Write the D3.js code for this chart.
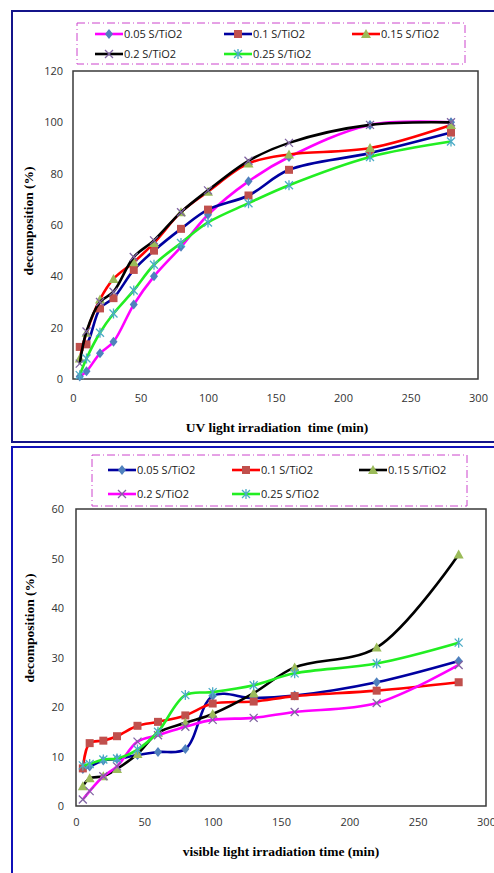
<!DOCTYPE html>
<html>
<head>
<meta charset="utf-8">
<script src="https://cdn.jsdelivr.net/npm/d3@7"></script>
<style>
  body { margin: 0; background: #fff; }
  svg text { font-family: "Open Sans", "DejaVu Sans", sans-serif; }
</style>
</head>
<body>
<svg id="chart" width="494" height="873"></svg>
<script>
// irradiation times (min), shared by both panels
const times = [5, 10, 20, 30, 45, 60, 80, 100, 130, 160, 220, 280];

// UV panel (decomposition %)
const uv005 = [1, 3, 10, 14.5, 29, 40, 51.5, 64, 77, 86.5, 99, 100];
const uv01 = [12.5, 13.5, 27.5, 31.5, 42.5, 50, 58.5, 66, 71.5, 81.5, 88, 96];
const uv015 = [8, 18, 31, 39, 45.5, 53, 65, 73, 84, 87.5, 90, 99];
const uv02 = [6, 18.5, 30, 34, 47.5, 54, 65, 73.5, 85, 92, 99, 100];
const uv025 = [1.5, 8, 18, 25.5, 34.5, 44.5, 53, 61, 68.5, 75.5, 86.5, 92.5];

// visible panel (decomposition %)
const vis005 = [7.5, 8, 9.2, 9.5, 10.3, 10.9, 11.5, 22.2, 21.8, 22.3, 25, 29.3];
const vis01 = [7.6, 12.7, 13.2, 14.1, 16.2, 17, 18.3, 20.7, 21.1, 22.2, 23.3, 25];
const vis015 = [4, 5.6, 6, 7.5, 10.5, 14.8, 16.8, 18.6, 22.8, 28, 32, 50.8];
const vis02 = [1.3, 3, 6, 8, 13, 14.3, 16, 17.4, 17.8, 19, 20.8, 28.5];
const vis025 = [8.2, 8.5, 9.4, 9.6, 11.4, 15, 22.4, 23, 24.4, 26.8, 28.8, 33];

const seriesNames = ["0.05 S/TiO2", "0.1 S/TiO2", "0.15 S/TiO2", "0.2 S/TiO2", "0.25 S/TiO2"];
const xTicks = [0, 50, 100, 150, 200, 250, 300];
const uvYTicks = [0, 20, 40, 60, 80, 100, 120];
const visYTicks = [0, 10, 20, 30, 40, 50, 60];

const markerTypes = ["diamond", "square", "triangle", "cross", "star"];
const markerFill = ["#4F81BD", "#C0504D", "#9BBB59", "#8064A2", "#4BACC6"];

const svg = d3.select("#chart");

// panel frames
svg.append("rect").attr("x", 12).attr("y", 11).attr("width", 500).attr("height", 431)
    .attr("fill", "none").attr("stroke", "#14148a").attr("stroke-width", 2);
svg.append("rect").attr("x", 12).attr("y", 447).attr("width", 500).attr("height", 440)
    .attr("fill", "none").attr("stroke", "#1010b8").attr("stroke-width", 2);

function drawMarker(g, type, x, y, fill) {
    const s = 4;
    if (type === "diamond") {
        g.append("path").attr("d", `M${x},${y - s - 1}L${x + s},${y}L${x},${y + s + 1}L${x - s},${y}Z`)
            .attr("fill", fill);
    } else if (type === "square") {
        g.append("rect").attr("x", x - s).attr("y", y - s).attr("width", 2 * s).attr("height", 2 * s)
            .attr("fill", fill);
    } else if (type === "triangle") {
        g.append("path").attr("d", `M${x},${y - s - 1}L${x + s + 1},${y + s}L${x - s - 1},${y + s}Z`)
            .attr("fill", fill);
    } else if (type === "cross") {
        g.append("path").attr("d", `M${x - s},${y - s}L${x + s},${y + s}M${x - s},${y + s}L${x + s},${y - s}`)
            .attr("stroke", fill).attr("stroke-width", 1.3);
    } else {
        g.append("path").attr("d", `M${x - s},${y - s}L${x + s},${y + s}M${x - s},${y + s}L${x + s},${y - s}M${x},${y - s - 1}L${x},${y + s + 1}`)
            .attr("stroke", fill).attr("stroke-width", 1.3);
    }
}

function drawPanel(cfg) {
    const x = d3.scaleLinear().domain([0, 300]).range([cfg.left, cfg.right]);
    const y = d3.scaleLinear().domain([0, cfg.yMax]).range([cfg.bottom, cfg.top]);

    // y axis labels
    const gy = svg.append("g")
        .attr("transform", `translate(${cfg.left},0)`)
        .call(d3.axisLeft(y).tickValues(cfg.yTicks).tickSize(0).tickPadding(cfg.left - cfg.yLabelX));
    gy.select(".domain").remove();
    gy.selectAll("text").attr("font-size", 11).attr("fill", "#333")
        .attr("font-family", "'Open Sans', sans-serif");

    // x axis labels
    const gx = svg.append("g")
        .attr("transform", `translate(0,${cfg.bottom})`)
        .call(d3.axisBottom(x).tickValues(xTicks).tickSize(0).tickPadding(cfg.xLabelY - cfg.bottom - 8));
    gx.select(".domain").remove();
    gx.selectAll("text").attr("font-size", 11).attr("fill", "#333")
        .attr("font-family", "'Open Sans', sans-serif");

    // plot area box
    svg.append("rect").attr("x", cfg.left).attr("y", cfg.top)
        .attr("width", cfg.right - cfg.left).attr("height", cfg.bottom - cfg.top)
        .attr("fill", "none").attr("stroke", "#3a3a3a").attr("stroke-width", 1.5);

    // axis titles
    svg.append("text").attr("x", cfg.xTitleX).attr("y", cfg.xTitleY)
        .attr("text-anchor", "middle").attr("font-size", 13.5).attr("font-weight", "bold")
        .style("font-family", "'Liberation Serif', 'DejaVu Serif', serif")
        .style("white-space", "pre")
        .text(cfg.xTitle);
    svg.append("text")
        .attr("transform", `translate(${cfg.yTitleX},${cfg.yTitleY}) rotate(-90)`)
        .attr("text-anchor", "middle").attr("font-size", 13.5).attr("font-weight", "bold")
        .style("font-family", "'Liberation Serif', 'DejaVu Serif', serif")
        .text("decomposition (%)");

    // series
    const line = d3.line()
        .x((d, i) => x(times[i]))
        .y(d => y(d))
        .curve(d3.curveCatmullRom.alpha(0.5));

    cfg.series.forEach((vals, si) => {
        const g = svg.append("g");
        g.append("path").attr("d", line(vals))
            .attr("fill", "none").attr("stroke", cfg.lineColors[si]).attr("stroke-width", 2.6);
        vals.forEach((v, i) => drawMarker(g, markerTypes[si], x(times[i]), y(v), markerFill[si]));
    });

    // legend
    const lg = svg.append("g");
    lg.append("rect").attr("x", cfg.legend.x).attr("y", cfg.legend.y)
        .attr("width", cfg.legend.w).attr("height", cfg.legend.h)
        .attr("fill", "#fff").attr("stroke", "#cc44cc").attr("stroke-width", 1)
        .attr("stroke-dasharray", "8,3,1,3");
    cfg.series.forEach((vals, si) => {
        const pos = cfg.legend.items[si];
        lg.append("line").attr("x1", pos[0]).attr("x2", pos[0] + 28)
            .attr("y1", pos[1]).attr("y2", pos[1])
            .attr("stroke", cfg.lineColors[si]).attr("stroke-width", 2.6);
        drawMarker(lg, markerTypes[si], pos[0] + 14, pos[1], markerFill[si]);
        lg.append("text").attr("x", pos[0] + 29).attr("y", pos[1] + 4)
            .attr("font-size", 11).attr("fill", "#222")
            .text(seriesNames[si]);
    });
}

drawPanel({
    left: 73, right: 478, top: 71, bottom: 379,
    yMax: 120, yTicks: uvYTicks, yLabelX: 63, xLabelY: 402,
    xTitle: "UV light irradiation  time (min)", xTitleX: 277, xTitleY: 432,
    yTitleX: 33, yTitleY: 221,
    series: [uv005, uv01, uv015, uv02, uv025],
    lineColors: ["#ff00ff", "#0000a0", "#ff0000", "#000000", "#22ee22"],
    legend: {
        x: 77, y: 23, w: 388, h: 41,
        items: [[95, 34], [224, 34], [352, 34], [95, 54], [224, 54]]
    }
});

drawPanel({
    left: 76, right: 486, top: 509, bottom: 806,
    yMax: 60, yTicks: visYTicks, yLabelX: 64, xLabelY: 826,
    xTitle: "visible light irradiation time (min)", xTitleX: 281, xTitleY: 856,
    yTitleX: 34, yTitleY: 628,
    series: [vis005, vis01, vis015, vis02, vis025],
    lineColors: ["#0000a0", "#ff0000", "#000000", "#ff00ff", "#22ee22"],
    legend: {
        x: 92, y: 455, w: 375, h: 51,
        items: [[108, 470], [232, 470], [359, 470], [108, 494], [232, 494]]
    }
});
</script>
</body>
</html>
